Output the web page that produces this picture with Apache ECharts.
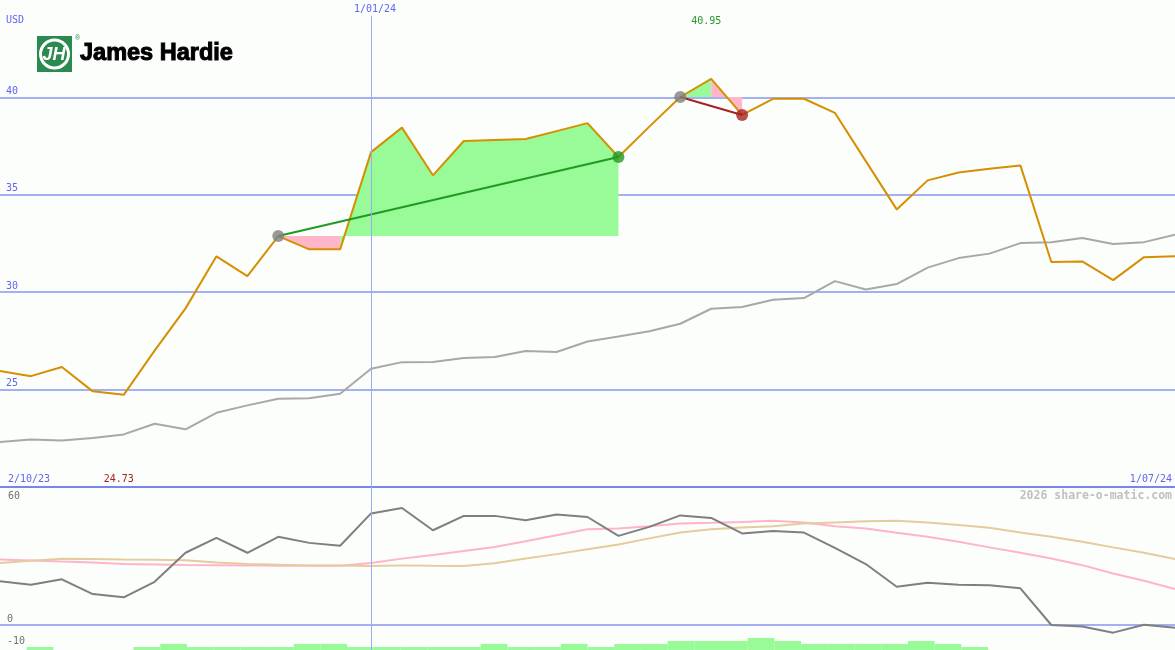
<!DOCTYPE html>
<html>
<head>
<meta charset="utf-8">
<script src="https://cdn.jsdelivr.net/npm/echarts@6/dist/echarts.min.js"></script>
<style>
html,body{margin:0;padding:0;background:#fbfefb;}
#c{width:1175px;height:650px;}
</style>
</head>
<body>
<div id="c"></div>
<script>
// ---- data (weekly points) ----
const price = [25.95,25.69,26.16,24.91,24.73,27.0,29.17,31.84,30.83,32.88,32.2,32.2,37.19,38.45,36.0,37.76,37.81,37.86,38.27,38.68,36.94,38.5,40.02,40.95,39.1,39.93,39.93,39.21,36.73,34.25,35.74,36.14,36.34,36.51,31.55,31.58,30.62,31.8,31.84];
const benchmark = [22.31,22.44,22.39,22.51,22.7,23.25,22.96,23.81,24.19,24.53,24.56,24.79,26.07,26.41,26.42,26.62,26.67,26.98,26.93,27.47,27.73,28.0,28.38,29.15,29.24,29.61,29.7,30.57,30.14,30.42,31.26,31.75,31.98,32.52,32.57,32.78,32.47,32.57,32.95];
const oscillator = [19.5,17.9,20.3,13.75,12.3,19.2,32.1,38.7,32.1,39.2,36.5,35.2,49.6,52.0,42.1,48.5,48.5,46.6,49.1,48.0,39.6,43.6,48.7,47.6,40.7,41.8,41.1,34.3,27.1,17.0,18.8,17.9,17.7,16.3,0.0,-0.7,-3.4,0.1,-1.2];
const fastAvg = [29.1,28.7,28.2,27.8,27.1,26.9,26.7,26.6,26.5,26.3,26.3,26.3,27.6,29.5,31.1,32.9,34.7,37.2,39.9,42.6,42.9,43.9,45.1,45.4,45.8,46.3,45.6,43.9,42.9,41.0,39.2,37.0,34.5,32.1,29.6,26.6,22.9,19.7,16.0];
const slowAvg = [27.6,28.6,29.4,29.3,29.1,29.0,28.8,27.8,27.1,26.8,26.5,26.4,26.2,26.5,26.3,26.2,27.4,29.6,31.5,33.7,35.8,38.5,41.1,42.6,43.3,43.9,45.1,45.6,46.1,46.3,45.6,44.4,43.2,41.1,39.2,37.0,34.5,32.1,29.3];
const volumeSteps = [0,1,0,0,0,1,2,1,1,1,1,2,2,1,1,1,1,1,2,1,1,2,1,2,2,3,3,3,4,3,2,2,2,2,3,2,1,0,0,0,0,0,0,0];
const tradeEntry = [9, 22];
const tradeExit = [20, 24];
const dateLabels = ['2/10/23', '1/01/24', '1/07/24'];
const dateMarkIndex = 12;
const mainTicks = [25, 30, 35, 40];
const lowerTicks = [60, 0, -10];
const currency = 'USD';
const credit = '2026 share-o-matic.com';

const categories = price.map((_, i) => i);
const volCats = volumeSteps.map((_, i) => i);

const C = {
  bg:'#fbfefb', grid:'#a3b1f3', vline:'#9aaaf8', sep:'#7785ee', axisText:'#6464ee',
  price:'#d68f00', bench:'#a8a8a8', osc:'#7f7f7f', fast:'#ffb4c8', slow:'#e4cc9c',
  fillUp:'#98fb98', fillDown:'#ffb6c8', win:'#229922', loss:'#a82222', entry:'#808080', vol:'#98fb98'
};
const MONO = '"DejaVu Sans Mono", monospace';

function tradeFillSeries(entry, exit) {
  const lvl = price[entry];
  const groups = [];
  let cur = null;
  for (let i = entry; i < exit; i++) {
    const up = price[i + 1] >= lvl;
    if (!cur || cur.up !== up) { cur = {up, start: i, end: i + 1}; groups.push(cur); }
    else cur.end = i + 1;
  }
  return groups.map(g => ({
    type: 'line', xAxisIndex: 0, yAxisIndex: 0, silent: true, z: 1,
    symbol: 'none', lineStyle: {width: 0},
    data: price.map((v, i) => (i >= g.start && i <= g.end) ? v : null),
    areaStyle: {origin: lvl, color: g.up ? C.fillUp : C.fillDown, opacity: 1}
  }));
}

const series = [];
tradeEntry.forEach((e, k) => series.push(...tradeFillSeries(e, tradeExit[k])));
series.push({type:'line', xAxisIndex:0, yAxisIndex:0, data: benchmark, symbol:'none', z:2,
  lineStyle:{color:C.bench, width:2}});
series.push({type:'line', xAxisIndex:0, yAxisIndex:0, data: price, symbol:'none', z:3,
  lineStyle:{color:C.price, width:2}});
tradeEntry.forEach((e, k) => {
  const x = tradeExit[k];
  const col = price[x] >= price[e] ? C.win : C.loss;
  series.push({type:'line', xAxisIndex:0, yAxisIndex:0, symbol:'none', z:4,
    data:[[e, price[e]], [x, price[x]]], lineStyle:{color:col, width:2}});
  series.push({type:'scatter', xAxisIndex:0, yAxisIndex:0, z:5, symbolSize:12,
    data:[{value:[e, price[e]], itemStyle:{color:C.entry}}, {value:[x, price[x]], itemStyle:{color:col}}]});
});
series.push({type:'line', xAxisIndex:1, yAxisIndex:1, data: fastAvg, symbol:'none', z:2, lineStyle:{color:C.fast, width:2}});
series.push({type:'line', xAxisIndex:1, yAxisIndex:1, data: slowAvg, symbol:'none', z:2, lineStyle:{color:C.slow, width:2}});
series.push({type:'line', xAxisIndex:1, yAxisIndex:1, data: oscillator, symbol:'none', z:3, lineStyle:{color:C.osc, width:2}});
series.push({type:'bar', xAxisIndex:2, yAxisIndex:2, data: volumeSteps, barCategoryGap:'0%', z:1,
  itemStyle:{color:C.vol}});

function gridColors(vals, show) { return vals.map(v => show.includes(v) ? C.grid : 'rgba(0,0,0,0)'); }

const chart = echarts.init(document.getElementById('c'), null, {renderer:'canvas'});
chart.setOption({
  backgroundColor: C.bg,
  animation: false,
  grid: [
    {left:0, top:0, width:1175, height:487},
    {left:0, top:490, width:1175, height:157.5},
    {left:0, top:620, width:1182, height:30}
  ],
  xAxis: [
    {gridIndex:0, type:'category', data:categories, boundaryGap:false,
      axisLine:{show:true, lineStyle:{color:C.sep, width:2}}, axisTick:{show:false}, axisLabel:{show:false}, splitLine:{show:false}},
    {gridIndex:1, type:'category', data:categories, boundaryGap:false,
      axisLine:{show:false}, axisTick:{show:false}, axisLabel:{show:false}, splitLine:{show:false}},
    {gridIndex:2, type:'category', data:volCats, boundaryGap:true,
      axisLine:{show:false}, axisTick:{show:false}, axisLabel:{show:false}, splitLine:{show:false}}
  ],
  yAxis: [
    {gridIndex:0, type:'value', min:20, max:45, interval:5,
      axisLine:{show:false}, axisTick:{show:false},
      splitLine:{show:true, lineStyle:{width:2, color: gridColors([20,25,30,35,40,45], mainTicks)}},
      axisLabel:{inside:true, margin:6, verticalAlign:'bottom', padding:[0,0,1,0], color:C.axisText,
        fontFamily:MONO, fontSize:10, formatter: v => mainTicks.includes(v) ? String(v) : ''}},
    {gridIndex:1, type:'value', min:-10, max:60, interval:10,
      axisLine:{show:false}, axisTick:{show:false},
      splitLine:{show:true, lineStyle:{width:2, color: gridColors([-10,0,10,20,30,40,50,60], [0])}},
      axisLabel:{inside:true, margin:7, verticalAlign:'bottom', padding:[0,0,1,0], color:'#707070',
        fontFamily:MONO, fontSize:10, formatter: v => (v === 0 || v === -10) ? String(v) : ''}},
    {gridIndex:2, type:'value', min:0, max:10, show:false, splitLine:{show:false}}
  ],
  series
});

// annotations positioned through the axes
const px = i => chart.convertToPixel({xAxisIndex:0, yAxisIndex:0}, [i, 30])[0];
let iMax = 0, iMin = 0;
price.forEach((v, i) => { if (v > price[iMax]) iMax = i; if (v < price[iMin]) iMin = i; });
const xMark = Math.round(px(dateMarkIndex));
const txt = (x, y, text, color, align, extra) => ({type:'text', x, y, z:20,
  style: Object.assign({text, fill:color, font:'10px ' + MONO, textAlign:align, textVerticalAlign:'middle'}, extra || {})});

chart.setOption({
  graphic: [
    {type:'rect', z:10, silent:true, shape:{x:xMark, y:16, width:1, height:634}, style:{fill:C.vline}},
    txt(6, 20, currency, C.axisText, 'left'),
    txt(8, 479, dateLabels[0], C.axisText, 'left'),
    txt(xMark - 17, 9, dateLabels[1], C.axisText, 'left'),
    txt(1172, 479, dateLabels[2], C.axisText, 'right'),
    txt(px(iMax) - 20, 21, price[iMax].toFixed(2), C.win, 'left'),
    txt(px(iMin) - 20, 479, price[iMin].toFixed(2), C.loss, 'left'),
    txt(1172, 496, credit, '#c0c0c0', 'right', {font:'bold 11.5px ' + MONO}),
    txt(8, 496, String(lowerTicks[0]), '#707070', 'left'),
    // logo
    {type:'rect', z:20, shape:{x:37, y:36, width:35, height:36}, style:{fill:'#2b8a50'}},
    {type:'circle', z:21, shape:{cx:54.5, cy:54, r:14}, style:{fill:'#2b8a50', stroke:'#ffffff', lineWidth:3}},
    {type:'text', z:22, x:54, y:55, style:{text:'JH', fill:'#ffffff', font:'italic bold 18px "Liberation Sans", Arial, sans-serif', textAlign:'center', textVerticalAlign:'middle'}},
    {type:'text', z:22, x:75, y:38, style:{text:'®', fill:'#2b8a50', font:'7px "Liberation Sans", Arial, sans-serif', textAlign:'left', textVerticalAlign:'middle'}},
    {type:'text', z:22, x:80, y:54, style:{text:'James Hardie', fill:'#000000', stroke:'#000000', lineWidth:1, font:'bold 23.5px "Liberation Sans", Arial, sans-serif', textAlign:'left', textVerticalAlign:'middle'}}
  ]
});
</script>
</body>
</html>
